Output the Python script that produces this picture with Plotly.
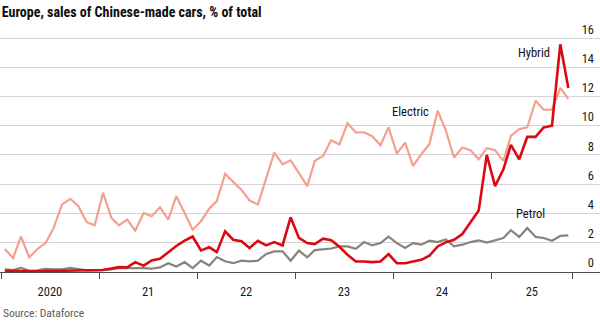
import plotly.graph_objects as go
import pandas as pd

# ---- data (monthly, Jan 2020 - Oct 2025), % of total ----
months = (pd.date_range("2020-01-01", periods=70, freq="MS") + pd.Timedelta(days=14)).strftime("%Y-%m-%d").tolist()

hybrid = [0.05, 0.03, 0.02, 0.02, 0.02, 0.03, 0.04, 0.05, 0.05, 0.05, 0.06, 0.07,
          0.10, 0.20, 0.30, 0.28, 0.64, 0.40, 0.76, 0.87, 1.35, 1.75, 2.12, 2.40,
          1.45, 1.66, 1.33, 2.76, 2.18, 2.07, 1.61, 2.11, 1.79, 2.02, 1.79, 3.72,
          2.30, 1.95, 1.88, 2.25, 2.15, 1.70, 1.15, 0.69, 0.69, 0.64, 0.69, 1.20,
          0.57, 0.57, 0.69, 0.80, 1.08, 1.72, 2.00, 2.18, 2.57, 3.33, 4.18, 8.00,
          5.86, 7.01, 8.69, 7.70, 9.24, 9.24, 9.89, 10.00, 15.59, 12.60]

electric = [1.54, 0.92, 2.40, 0.97, 1.54, 1.95, 2.99, 4.60, 4.99, 4.48, 3.38, 3.17,
            5.40, 3.68, 3.17, 3.56, 2.80, 4.02, 3.79, 4.41, 3.56, 5.17, 4.02, 2.87,
            3.45, 4.32, 4.83, 6.71, 6.15, 5.60, 4.87, 4.60, 6.39, 8.16, 7.36, 7.63,
            6.75, 5.86, 7.59, 7.93, 9.01, 8.72, 10.17, 9.54, 9.55, 9.28, 8.66, 9.89,
            8.09, 8.85, 7.24, 8.05, 8.74, 11.03, 9.70, 7.82, 8.51, 8.32, 7.70, 8.46,
            8.32, 7.59, 9.31, 9.77, 9.89, 11.72, 11.10, 11.10, 12.60, 11.84]

petrol = [0.15, 0.10, 0.25, 0.05, 0.08, 0.18, 0.15, 0.15, 0.25, 0.15, 0.08, 0.08,
          0.10, 0.15, 0.23, 0.23, 0.28, 0.23, 0.19, 0.28, 0.57, 0.34, 0.64, 0.23,
          0.74, 0.41, 0.99, 0.70, 0.57, 0.74, 0.69, 0.74, 1.20, 1.38, 1.38, 0.74,
          1.43, 0.97, 1.47, 1.52, 1.58, 1.72, 1.72, 1.56, 2.02, 1.79, 1.95, 2.39,
          1.95, 1.61, 1.95, 1.84, 2.11, 2.02, 2.20, 1.72, 1.84, 2.02, 2.14, 1.98,
          2.14, 2.30, 2.83, 2.37, 2.99, 2.37, 2.30, 2.11, 2.44, 2.48]

year_labels = ["2020", "21", "22", "23", "24", "25"]
year_label_dates = ["2020-07-01", "2021-07-02", "2022-07-02", "2023-07-02", "2024-07-01", "2025-06-01"]
boundary_ticks = ["2020-01-01", "2021-01-01", "2022-01-01", "2023-01-01", "2024-01-01",
                  "2025-01-01", "2025-11-01"]
y_ticks = [0, 2, 4, 6, 8, 10, 12, 14, 16]

FONT = "Liberation Sans Narrow, Roboto Condensed, Roboto, Arial, sans-serif"

fig = go.Figure()
fig.add_trace(go.Scatter(x=months, y=petrol, mode="lines", name="Petrol",
                         line=dict(color="#85857a", width=2.2), hoverinfo="skip"))
fig.add_trace(go.Scatter(x=months, y=electric, mode="lines", name="Electric",
                         line=dict(color="#f4a08f", width=2.2), hoverinfo="skip"))
fig.add_trace(go.Scatter(x=months, y=hybrid, mode="lines", name="Hybrid",
                         line=dict(color="#db0a12", width=2.6), hoverinfo="skip"))

labels = [("Electric", "2024-03-04", 10.95), ("Hybrid", "2025-06-09", 15.0), ("Petrol", "2025-05-28", 3.95)]
for txt, xd, yv in labels:
    fig.add_annotation(x=xd, y=yv, xref="x", yref="y", text=txt, showarrow=False,
                       font=dict(family=FONT, size=12.5, color="#111111"),
                       xanchor="center", yanchor="middle")

fig.add_annotation(x=0.002, y=-0.163, xref="paper", yref="paper", text="Source: Dataforce",
                   showarrow=False, xanchor="left", yanchor="middle",
                   font=dict(family=FONT, size=11.5, color="#595959"))

fig.update_layout(
    width=600, height=321,
    margin=dict(l=0, r=0, t=20, b=49, autoexpand=False),
    paper_bgcolor="white", plot_bgcolor="white",
    showlegend=False,
    title=dict(text="<b>Europe, sales of Chinese-made cars, % of total</b>",
               x=0.003, xref="container", xanchor="left",
               y=1 - 12 / 321, yref="container", yanchor="middle",
               font=dict(family=FONT, size=14, color="#0d0d0d")),
    xaxis=dict(type="date", range=["2019-12-28", "2026-02-10"], automargin=False,
               tickmode="array", tickvals=year_label_dates, ticktext=year_labels,
               ticks="", showgrid=False, zeroline=False,
               showline=True, linecolor="#4d4d4d", linewidth=1,
               ticklabelstandoff=8,
               tickfont=dict(family=FONT, size=12.5, color="#1a1a1a"),
               minor=dict(tickmode="array", tickvals=boundary_ticks, ticks="outside",
                          ticklen=6, tickwidth=1, tickcolor="#4d4d4d", showgrid=False)),
    yaxis=dict(side="right", range=[-0.035, 17.26], tickmode="array", tickvals=y_ticks,
               automargin=False,
               showgrid=True, gridcolor="#d3d3d3", gridwidth=1, zeroline=False,
               ticks="", ticklabelposition="inside top", ticklabelstandoff=3,
               tickfont=dict(family=FONT, size=12.5, color="#1a1a1a")),
)

fig.write_html("out.html")
